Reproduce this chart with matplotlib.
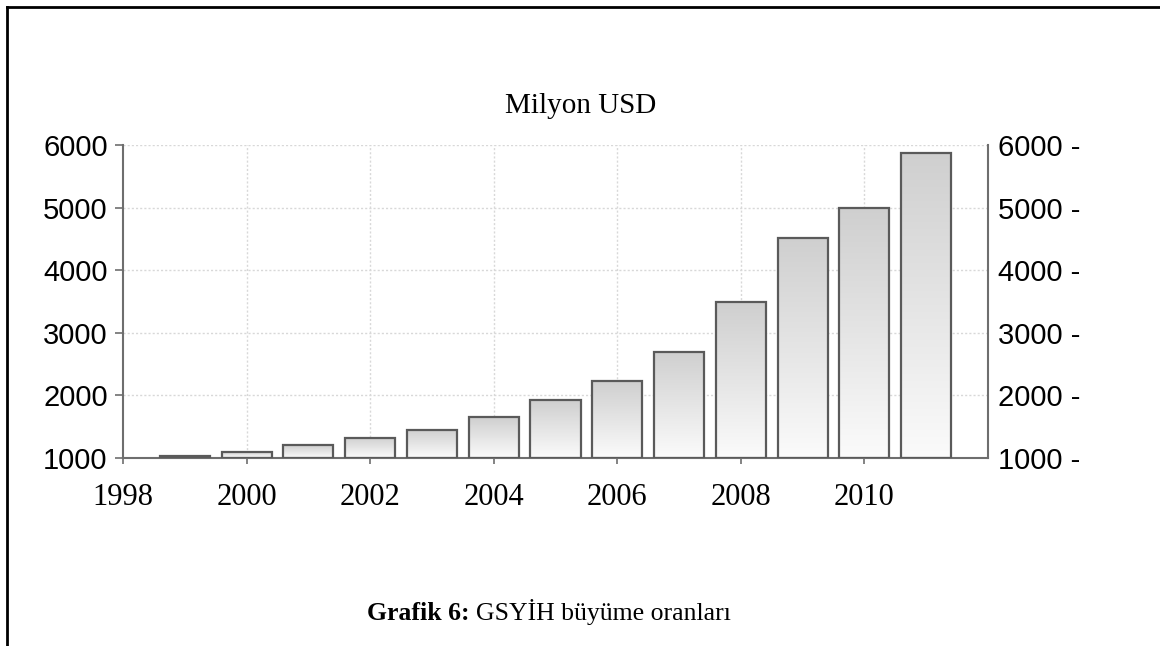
import numpy as np
import matplotlib
matplotlib.use('Agg')
import matplotlib.pyplot as plt
from matplotlib.lines import Line2D

# Data (million USD)
YEARS = [1999, 2000, 2001, 2002, 2003, 2004, 2005, 2006, 2007, 2008, 2009, 2010, 2011]
VALUES = [1030, 1100, 1200, 1325, 1450, 1650, 1925, 2230, 2700, 3485, 4515, 4995, 5880]
X_TICKS = [1998, 2000, 2002, 2004, 2006, 2008, 2010]
Y_TICKS = [1000, 2000, 3000, 4000, 5000, 6000]
TITLE = 'Milyon USD'
CAPTION_BOLD = 'Grafik 6:'
CAPTION_TEXT = 'GSYİH büyüme oranları'

SERIF = 'Liberation Serif'
SANS = 'Liberation Sans'
AXIS_GRAY = '#6e6e6e'

fig = plt.figure(figsize=(11.6, 6.46), dpi=100)
ax = fig.add_axes([123 / 1160, 1 - 458 / 646, 865 / 1160, 313 / 646])

# bars with a vertical gray gradient
bars = ax.bar(YEARS, [v - 1000 for v in VALUES], bottom=1000, width=0.81,
              facecolor='none', edgecolor='#5a5a5a', linewidth=1.6, zorder=3)
grad = np.linspace(0, 1, 256).reshape(-1, 1)
cmap = matplotlib.colors.LinearSegmentedColormap.from_list('g', ['#fbfbfb', '#cfcfcf'])
for b in bars:
    x0, y0 = b.get_x(), b.get_y()
    w, h = b.get_width(), b.get_height()
    im = ax.imshow(grad, cmap=cmap, aspect='auto', origin='lower',
                   extent=(x0, x0 + w, y0, y0 + h), zorder=2)
    im.set_clip_path(b)
ax.set_xlim(1998, 2012)
ax.set_ylim(1000, 6000)

# grid
for t in Y_TICKS[1:]:
    ax.axhline(t, color='#d8d8d8', lw=1, ls=(0, (1.5, 1.5)), zorder=1)
for t in X_TICKS[1:]:
    ax.axvline(t, color='#d8d8d8', lw=1, ls=(0, (1.5, 1.5)), zorder=1)

# spines
ax.spines['top'].set_visible(False)
for s in ['left', 'right', 'bottom']:
    ax.spines[s].set_color(AXIS_GRAY)
    ax.spines[s].set_linewidth(1.5)

ax.set_xticks(X_TICKS)
ax.set_xticklabels([str(t) for t in X_TICKS], fontsize=22, family=SERIF)
ax.tick_params(axis='x', direction='out', length=4, width=1.2, color=AXIS_GRAY, pad=14)
ax.set_yticks(Y_TICKS)
ax.set_yticklabels([str(t) for t in Y_TICKS], fontsize=21, family=SANS)
ax.tick_params(axis='y', direction='out', length=6, width=1.2, color=AXIS_GRAY, pad=5)

ax2 = ax.twinx()
ax2.set_ylim(1000, 6000)
ax2.set_yticks(Y_TICKS)
ax2.set_yticklabels([f'{t} -' for t in Y_TICKS], fontsize=21, family=SANS)
ax2.tick_params(axis='y', length=0, pad=7)
for s in ax2.spines.values():
    s.set_visible(False)

fig.text(581 / 1160, 1 - 113 / 646, TITLE, ha='center', va='baseline',
         fontsize=21, family=SERIF)

# caption: bold part followed by regular part
cy = 1 - 620 / 646
t1 = fig.text(367 / 1160, cy, CAPTION_BOLD, ha='left', va='baseline',
              fontsize=18.5, family=SERIF, weight='bold')
fig.canvas.draw()
bb = t1.get_window_extent()
fig.text((bb.x1 + 6) / 1160, cy, CAPTION_TEXT, ha='left', va='baseline',
         fontsize=18.5, family=SERIF)

# page frame (left and top edges)
fig.add_artist(Line2D([7 / 1160, 7 / 1160], [0, 1 - 7 / 646], color='black', lw=2))
fig.add_artist(Line2D([7 / 1160, 1], [1 - 7 / 646, 1 - 7 / 646], color='black', lw=2))

fig.savefig('out.png', dpi=100)
